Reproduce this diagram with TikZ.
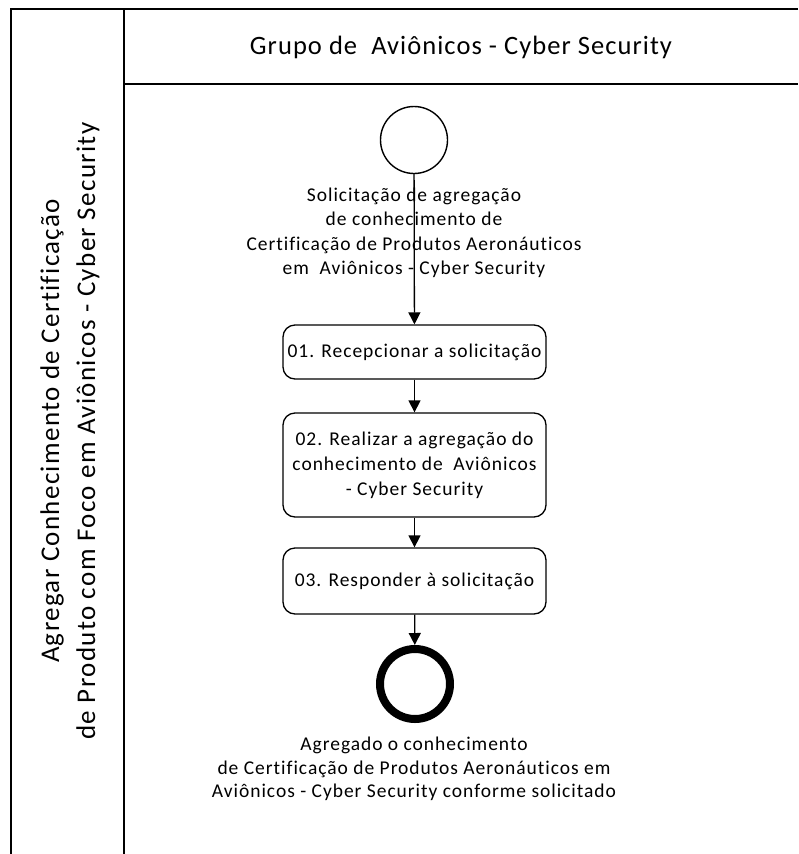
\documentclass[tikz,border=0pt]{standalone}
\usepackage{fontspec}
\setmainfont{Carlito}[Ligatures=CommonOff]
\newfontfamily\bodyfont{Carlito}[Ligatures=CommonOff,LetterSpace=5]
\newfontfamily\headfont{Carlito}[Ligatures=CommonOff,LetterSpace=4]
\newfontfamily\poolfont{Carlito}[Ligatures=CommonOff,LetterSpace=5]
\usetikzlibrary{arrows.meta}
\begin{document}
\begin{tikzpicture}[x=1pt,y=-1pt,
  frame/.style={line width=2.6pt},
  task/.style={draw,line width=1.3pt,rounded corners=12pt,minimum width=263pt,inner sep=2pt,align=center,font=\bodyfont\fontsize{19.5}{25}\selectfont},
  lbl/.style={align=center,inner sep=0pt,font=\bodyfont\fontsize{19.5}{24.5}\selectfont},
  startev/.style={draw,circle,line width=1.4pt,minimum size=67pt,inner sep=0pt},
  endev/.style={draw,circle,line width=8pt,minimum size=70pt,inner sep=0pt},
  flow/.style={line width=1.3pt,-{Triangle[width=12pt,length=12pt]}}]
\useasboundingbox (0,0) rectangle (798,854);
% pool frame
\coordinate (tl) at (11,9);
\coordinate (tr) at (798,9);
\coordinate (bl) at (11,854);
\coordinate (dt) at (124,9);
\coordinate (db) at (124,854);
\coordinate (hl) at (124,84);
\coordinate (hr) at (798,84);
\draw[frame] (tr) -- (tl) -- (bl);
\draw[frame] (dt) -- (db);
\draw[line width=2pt] (hl) -- (hr);
\node[font=\headfont\fontsize{26.5}{31}\selectfont] (lane) at (461,47) {Grupo de~ Aviônicos - Cyber Security};
\node[rotate=90,align=center,font=\poolfont\fontsize{27}{36}\selectfont] (pool) at (70,431)
  {Agregar Conhecimento de Certificação\\de Produto com Foco em Aviônicos - Cyber Security};
% flow
\node[startev] (start) at (414,140) {};
\node[task,minimum height=54pt] (t1) at (414.5,352) {01. Recepcionar a solicitação};
\node[task,minimum height=104pt] (t2) at (414.5,465) {02. Realizar a agregação do\\conhecimento de~ Aviônicos\\- Cyber Security};
\node[task,minimum height=66pt] (t3) at (414.5,581) {03. Responder à solicitação};
\node[endev] (end) at (415,684) {};
\draw[flow] (start) -- (t1);
\draw[flow] (t1) -- (t2);
\draw[flow] (t2) -- (t3);
\draw[flow] (t3) -- (end);
\node[lbl] (startlbl) at (414,233) {Solicitação de agregação\\de conhecimento de\\Certificação de Produtos Aeronáuticos\\em~ Aviônicos - Cyber Security};
\node[lbl,font=\bodyfont\fontsize{19.5}{23.5}\selectfont] (endlbl) at (414,769) {Agregado o conhecimento\\de Certificação de Produtos Aeronáuticos em\\Aviônicos - Cyber Security conforme solicitado};
\end{tikzpicture}
\end{document}
